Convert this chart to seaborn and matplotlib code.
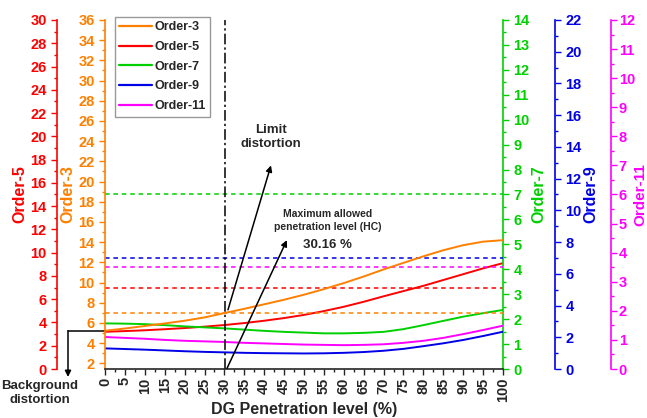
import numpy as np
import pandas as pd
import matplotlib
matplotlib.use("Agg")
import matplotlib.pyplot as plt
from matplotlib.ticker import MultipleLocator
import seaborn as sns

# DG penetration level (%)
penetration = [0, 5, 10, 15, 20, 25, 30, 35, 40, 45, 50,
               55, 60, 65, 70, 75, 80, 85, 90, 95, 100]

# Harmonic distortion per order
order3 = [5.23, 5.45, 5.70, 5.95, 6.22, 6.55, 6.98, 7.40, 7.85, 8.30, 8.80,
          9.35, 9.95, 10.60, 11.30, 11.95, 12.60, 13.20, 13.70, 14.05, 14.20]
order5 = [3.20, 3.26, 3.33, 3.42, 3.52, 3.64, 3.78, 3.95, 4.15, 4.38, 4.65,
          4.98, 5.35, 5.78, 6.25, 6.70, 7.15, 7.65, 8.15, 8.65, 9.10]
order7 = [1.83, 1.82, 1.80, 1.76, 1.71, 1.67, 1.63, 1.58, 1.53, 1.49, 1.46,
          1.43, 1.43, 1.45, 1.49, 1.60, 1.76, 1.93, 2.10, 2.24, 2.37]
order9 = [1.30, 1.26, 1.22, 1.17, 1.12, 1.08, 1.05, 1.02, 1.00, 0.99, 0.98,
          0.99, 1.02, 1.07, 1.15, 1.27, 1.44, 1.62, 1.83, 2.08, 2.35]
order11 = [1.10, 1.07, 1.04, 1.00, 0.97, 0.95, 0.93, 0.90, 0.88, 0.86, 0.84,
           0.83, 0.82, 0.83, 0.85, 0.90, 0.97, 1.07, 1.20, 1.34, 1.49]

# Distortion limits per order
limit3 = 7.0
limit5 = 7.0
limit7 = 7.0
limit9 = 7.0
limit11 = 3.5

max_penetration = 30.16
background = order3[0]

C3, C5, C7, C9, C11 = "#FF8000", "#FF0000", "#00D000", "#0000E6", "#FF00FF"

sns.set_style("ticks")
plt.rcParams["font.family"] = ["Liberation Sans", "DejaVu Sans"]
plt.rcParams["font.weight"] = "bold"
plt.rcParams["axes.labelweight"] = "bold"

df = pd.DataFrame({"pen": penetration, "o3": order3, "o5": order5,
                   "o7": order7, "o9": order9, "o11": order11})

fig = plt.figure(figsize=(6.47, 4.18), dpi=100)
ax = fig.add_axes([0.1623, 0.1172, 0.6151, 0.8350])
ax5 = ax.twinx()
ax7 = ax.twinx()
ax9 = ax.twinx()
ax11 = ax.twinx()

tick_fs = 10.5
lab_fs = 11.5

# Order-3 (host axis)
sns.lineplot(data=df, x="pen", y="o3", ax=ax, color=C3, lw=1.4, label="Order-3")
ax.axhline(limit3, color=C3, ls=(0, (3, 2.5)), lw=1.1)
ax.set_xlim(0, 100)
ax.set_ylim(1.44, 36)
ax.yaxis.set_major_locator(MultipleLocator(2))
ax.yaxis.set_minor_locator(MultipleLocator(1))
ax.set_yticks(np.arange(2, 37, 2))
ax.xaxis.set_major_locator(MultipleLocator(5))
ax.xaxis.set_minor_locator(MultipleLocator(2.5))
ax.set_xlabel("DG Penetration level (%)", fontsize=lab_fs, labelpad=0)
ax.set_ylabel("Order-3", color=C3, fontsize=lab_fs, labelpad=2)
ax.tick_params(axis="y", colors=C3, labelsize=tick_fs, width=1, length=4)
ax.tick_params(axis="y", which="minor", colors=C3, width=1, length=2.5)
ax.tick_params(axis="x", labelsize=tick_fs, rotation=90, width=1, length=4, pad=2)
ax.tick_params(axis="x", which="minor", width=1, length=2.5)
ax.spines["left"].set_color(C3)
ax.spines["top"].set_visible(False)
ax.spines["right"].set_visible(False)
ax.spines["bottom"].set_linewidth(1.2)
ax.spines["left"].set_linewidth(1.2)
for t in ax.get_xticklabels() + ax.get_yticklabels():
    t.set_fontweight("bold")

# Order-5 on an outer left axis
sns.lineplot(data=df, x="pen", y="o5", ax=ax5, color=C5, lw=1.4, legend=False)
ax5.axhline(limit5, color=C5, ls=(0, (3, 2.5)), lw=1.1)
ax5.set_ylim(0, 30)
ax5.yaxis.set_major_locator(MultipleLocator(2))
ax5.yaxis.set_minor_locator(MultipleLocator(1))
ax5.spines["left"].set_visible(True)
ax5.spines["left"].set_position(("outward", 34.5))
ax5.spines["left"].set_color(C5)
ax5.spines["left"].set_linewidth(1.2)
for s in ("right", "top", "bottom"):
    ax5.spines[s].set_visible(False)
ax5.yaxis.set_ticks_position("left")
ax5.yaxis.set_label_position("left")
ax5.set_ylabel("Order-5", color=C5, fontsize=lab_fs, labelpad=2)

# Order-7, Order-9, Order-11 on the right
for a, col, key, lim, top, maj, mnr, off, name, lp in [
        (ax7, C7, "o7", limit7, 14, 1, 0.5, 0, "Order-7", 1),
        (ax9, C9, "o9", limit9, 22, 2, 1, 37.4, "Order-9", 1),
        (ax11, C11, "o11", limit11, 12, 1, 0.5, 77.8, "Order-11", -1)]:
    sns.lineplot(data=df, x="pen", y=key, ax=a, color=col, lw=1.4, legend=False)
    a.axhline(lim, color=col, ls=(0, (3, 2.5)), lw=1.1)
    a.set_ylim(0, top)
    a.yaxis.set_major_locator(MultipleLocator(maj))
    a.yaxis.set_minor_locator(MultipleLocator(mnr))
    a.spines["right"].set_position(("outward", off))
    a.spines["right"].set_color(col)
    a.spines["right"].set_linewidth(1.2)
    for s in ("left", "top", "bottom"):
        a.spines[s].set_visible(False)
    a.set_ylabel(name, color=col, fontsize=lab_fs, labelpad=lp)

for a, col in [(ax5, C5), (ax7, C7), (ax9, C9), (ax11, C11)]:
    a.set_xlim(0, 100)
    a.tick_params(axis="y", colors=col, labelsize=tick_fs, width=1, length=4)
    a.tick_params(axis="y", which="minor", colors=col, width=1, length=2.5)
    for t in a.get_yticklabels():
        t.set_fontweight("bold")
ax11.tick_params(axis="y", pad=1.5)
ax11.yaxis.label.set_fontsize(11)

# Maximum allowed penetration level marker
ax.axvline(max_penetration, color="black", lw=1.1, ls=(0, (7, 2, 1.5, 2)))

# Legend with all orders
handles = [plt.Line2D([], [], color=c, lw=1.6) for c in (C3, C5, C7, C9, C11)]
leg = ax.legend(handles, ["Order-3", "Order-5", "Order-7", "Order-9", "Order-11"],
                loc="upper left", bbox_to_anchor=(0.025, 1.009), borderaxespad=0,
                fancybox=False, frameon=True, edgecolor="#808080",
                handlelength=2.6, labelspacing=0.62, handletextpad=0.2,
                borderpad=0.35, prop={"weight": "bold", "size": 9})
leg.get_frame().set_linewidth(1.0)
ax5.set_zorder(0)
ax.set_zorder(5)
ax.patch.set_visible(False)

# Annotations
arrow = dict(arrowstyle="-|>", color="black", lw=1.1, mutation_scale=9,
             shrinkA=0, shrinkB=0)
ax.annotate("", xy=(41.7, 21.6), xytext=(30.9, 7.3), arrowprops=arrow)
ax.text(41.7, 24.4, "Limit\ndistortion", ha="center", va="center",
        fontsize=9.5, fontweight="bold", linespacing=1.3)
ax.annotate("", xy=(45.7, 14.2), xytext=(30.65, 1.5), arrowprops=arrow,
            annotation_clip=False)
ax.text(56.0, 16.15, "Maximum allowed\npenetration level (HC)", ha="center",
        va="center", fontsize=7.5, fontweight="bold", linespacing=1.3)
ax.text(56.0, 13.7, "30.16 %", ha="center", va="center",
        fontsize=9.5, fontweight="bold")

# Background distortion pointer
blend = matplotlib.transforms.blended_transform_factory(ax.transAxes, ax.transData)
ax.plot([0, -0.093], [background, background], color="black", lw=1.1,
        transform=blend, clip_on=False)
ax.annotate("", xy=(-0.093, 0.65), xytext=(-0.093, background),
            xycoords=blend, textcoords=blend, arrowprops=arrow,
            annotation_clip=False)
fig.text(40 / 647, 1 - 393 / 418, "Background\ndistortion", ha="center",
         va="center", fontsize=9.5, fontweight="bold", linespacing=1.3)

fig.savefig("out.png", dpi=100)
